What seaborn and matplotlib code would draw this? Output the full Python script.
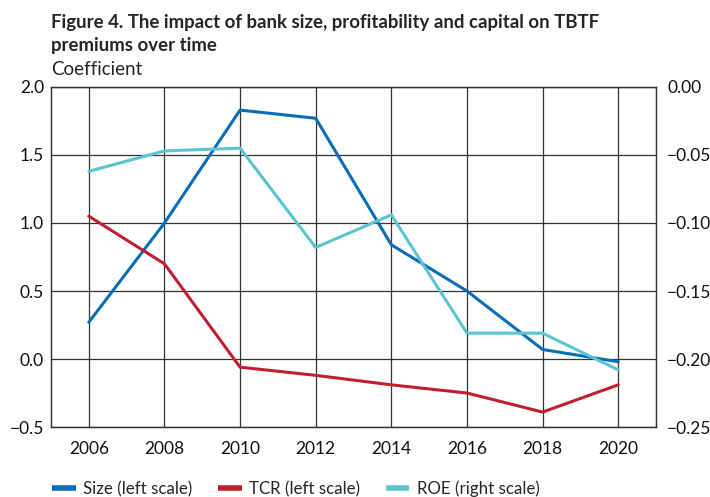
import numpy as np
import matplotlib
matplotlib.use("Agg")
import matplotlib.pyplot as plt
import pandas as pd
import seaborn as sns

years = [2006, 2008, 2010, 2012, 2014, 2016, 2018, 2020]
size_left = [0.27, 1.00, 1.83, 1.77, 0.84, 0.50, 0.07, -0.02]
tcr_left = [1.05, 0.70, -0.06, -0.12, -0.19, -0.25, -0.39, -0.19]
roe_right = [-0.062, -0.047, -0.045, -0.118, -0.094, -0.181, -0.181, -0.208]

df = pd.DataFrame({"year": years, "Size": size_left, "TCR": tcr_left, "ROE": roe_right})

sns.set_theme(style="white")
plt.rcParams['font.family'] = ['Lato', 'DejaVu Sans']

c_size = "#0a6db5"
c_tcr = "#c01f2f"
c_roe = "#5cc3d1"

fig = plt.figure(figsize=(7.1, 4.97), dpi=100)
ax = fig.add_axes([0.0718, 0.1408, 0.8522, 0.6842])
ax2 = ax.twinx()

sns.lineplot(data=df, x="year", y="Size", ax=ax, color=c_size, linewidth=2.2, label="Size (left scale)", legend=False)
sns.lineplot(data=df, x="year", y="TCR", ax=ax, color=c_tcr, linewidth=2.2, label="TCR (left scale)", legend=False)
sns.lineplot(data=df, x="year", y="ROE", ax=ax2, color=c_roe, linewidth=2.2, label="ROE (right scale)", legend=False)

ax.set_xlim(2005, 2021)
ax.set_ylim(-0.5, 2.0)
ax2.set_ylim(-0.25, 0.0)
ax.set_xticks(years)
ax.set_yticks(np.arange(-0.5, 2.01, 0.5))
ax2.set_yticks(np.arange(-0.25, 0.001, 0.05))
ax.set_yticklabels([f"{v:.1f}".replace("-", "\u2212") for v in np.arange(-0.5, 2.01, 0.5)])
ax2.set_yticklabels([f"{v:.2f}".replace("-", "\u2212").replace("\u22120.00", "0.00") for v in np.arange(-0.25, 0.001, 0.05)])

ax.grid(True, axis="both", color="#333333", linewidth=0.9)
ax.set_axisbelow(True)
ax.set_xlabel("")
ax.set_ylabel("")
ax2.set_ylabel("")
for a in (ax, ax2):
    for s in a.spines.values():
        s.set_color("#333333")
        s.set_linewidth(0.9)
    a.tick_params(length=0, labelsize=12.5, colors="#111111")
ax.tick_params(axis="x", pad=10)
ax.tick_params(axis="y", pad=5)
ax2.tick_params(axis="y", pad=8)

fig.text(0.0718, 1 - 28 / 497, "Figure 4. The impact of bank size, profitability and capital on TBTF",
         fontsize=13.4, fontweight="bold", ha="left", va="baseline")
fig.text(0.0718, 1 - 51 / 497, "premiums over time",
         fontsize=13.4, fontweight="bold", ha="left", va="baseline")
fig.text(0.0718, 1 - 75 / 497, "Coefficient", fontsize=13.5, ha="left", va="baseline")

h1, l1 = ax.get_legend_handles_labels()
h2, l2 = ax2.get_legend_handles_labels()
leg = fig.legend(h1 + h2, l1 + l2, loc="center left", bbox_to_anchor=(0.073, 1 - 489 / 497), ncol=3,
                 frameon=False, fontsize=12.2, handlelength=1.4, columnspacing=1.5, handletextpad=0.45,
                 borderpad=0, borderaxespad=0)
for line in leg.get_lines():
    line.set_linewidth(4)
    line.set_solid_capstyle("butt")

fig.savefig("out.png", dpi=100)
